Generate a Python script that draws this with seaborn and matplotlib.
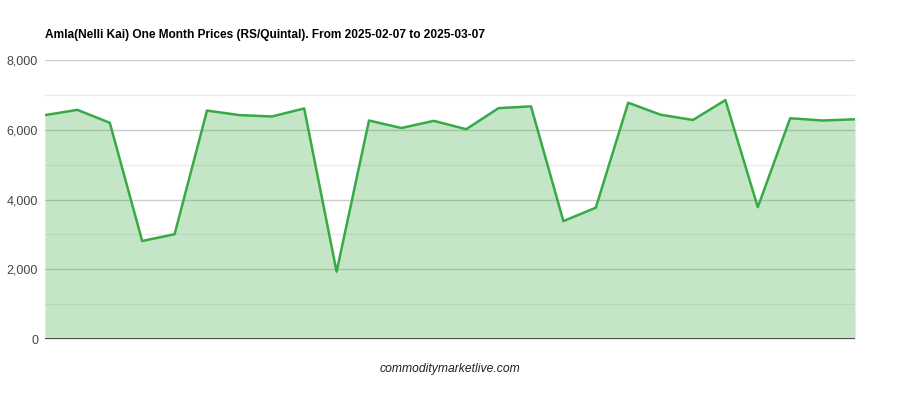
import matplotlib
matplotlib.use("Agg")
import matplotlib.pyplot as plt
import seaborn as sb
import pandas as pd
from matplotlib.ticker import FuncFormatter, MultipleLocator

# prices per day, 2025-02-07 .. 2025-03-07 (trading days)
day_index = list(range(26))
prices = [6420, 6570, 6200, 2810, 3005, 6550, 6420, 6380, 6610, 1930,
          6265, 6050, 6255, 6015, 6620, 6670, 3380, 3765, 6775, 6430,
          6280, 6850, 3780, 6330, 6265, 6300]
y_ticks = [0, 2000, 4000, 6000, 8000]

df = pd.DataFrame({"day": day_index, "price": prices})

sb.set_style("white")
plt.rcParams["font.family"] = ["Liberation Sans", "DejaVu Sans"]

fig = plt.figure(figsize=(9, 4), dpi=100)
ax = fig.add_axes([0.05, 0.1525, 0.90, 0.6975])

green = "#36aa45"
ax.set_ylim(0, 8000)
ax.set_xlim(df["day"].min(), df["day"].max())
ax.yaxis.set_major_locator(MultipleLocator(2000))
ax.yaxis.set_minor_locator(MultipleLocator(1000))
ax.grid(axis="y", which="major", color="#cccccc", lw=1, zorder=0)
ax.grid(axis="y", which="minor", color="#ebebeb", lw=1, zorder=0)
ax.set_axisbelow(True)

ax.fill_between(df["day"], df["price"], 0, color="#43b04c", alpha=0.31, lw=0, zorder=1)
sb.lineplot(data=df, x="day", y="price", ax=ax, color=green, lw=1.8, zorder=3)
ax.axhline(0, color="#333333", lw=1.2, zorder=4)

ax.set_yticks(y_ticks)
ax.yaxis.set_major_formatter(FuncFormatter(lambda v, p: f"{int(v):,}"))
ax.tick_params(axis="y", which="both", length=0, labelsize=9, labelcolor="#444444", pad=5)
ax.set_xticks([])
ax.set_xlabel("")
ax.set_ylabel("")
for s in ax.spines.values():
    s.set_visible(False)

fig.text(0.05, 0.9125, "Amla(Nelli Kai) One Month Prices (RS/Quintal). From 2025-02-07 to 2025-03-07",
         fontsize=8.6, fontweight="bold", ha="left", va="center", color="#000000")
fig.text(0.5, 0.0775, "commoditymarketlive.com", fontsize=8.7, style="italic",
         ha="center", va="center", color="#222222")

fig.savefig("out.png", dpi=100)
